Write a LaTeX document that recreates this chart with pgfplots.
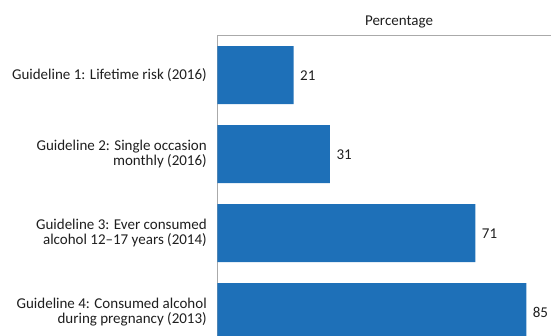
\documentclass[border=0pt]{standalone}
\usepackage{pgfplots}
\pgfplotsset{compat=1.18}
\usepackage{fontspec}
\setmainfont{Carlito}
\definecolor{barblue}{RGB}{30,112,184}
\definecolor{axgray}{RGB}{170,170,170}
\definecolor{txt}{RGB}{30,30,30}
\begin{document}
\begin{tikzpicture}
\begin{axis}[
  name=ax,
  scale only axis,
  width=333.7pt, height=300pt,
  xbar, bar width=58pt,
  xmin=0, xmax=91.8,
  ymin=-0.5, ymax=3.297,
  y dir=reverse,
  axis x line*=top, axis y line*=left,
  x axis line style={-, draw=axgray, line width=1pt},
  y axis line style={-, draw=axgray, line width=1pt},
  xtick=\empty,
  ytick={0,1,2,3},
  yticklabels={{Guideline 1: Lifetime risk (2016)},{Guideline 2: Single occasion\\monthly (2016)},{Guideline 3: Ever consumed\\alcohol 12--17 years (2014)},{Guideline 4: Consumed alcohol\\during pregnancy (2013)}},
  yticklabel style={align=right, font=\fontsize{15}{15.5}\selectfont, text=txt, xshift=-7pt},
  major tick length=0pt,
  nodes near coords,
  every node near coord/.append style={font=\fontsize{15}{16}\selectfont, text=txt, anchor=west, xshift=3pt},
  point meta=explicit symbolic,
  clip mode=individual,
]
\addplot[fill=barblue, draw=none] coordinates {(21,0)[21] (31,1)[31] (71,2)[71] (85,3)[85]};
\end{axis}
\node[font=\fontsize{15}{16}\selectfont, text=txt, anchor=south] at ([xshift=181.7pt,yshift=4pt]ax.north west) {Percentage};
\pgfresetboundingbox
\path ([xshift=-217.3pt,yshift=35.7pt]ax.north west) rectangle (ax.south east);
\end{tikzpicture}
\end{document}
